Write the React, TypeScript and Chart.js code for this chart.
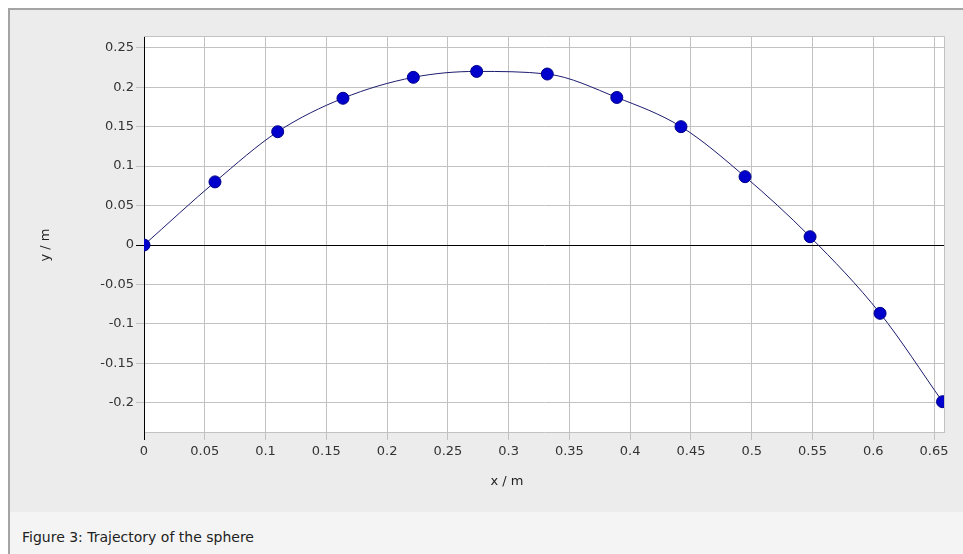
import React, { useEffect, useRef } from "react";
import { Chart, registerables } from "chart.js";

Chart.register(...registerables);

const xValues = [0, 0.0584, 0.11, 0.1637, 0.2216, 0.2737, 0.3318, 0.389, 0.4418, 0.4945, 0.548, 0.6056, 0.657];
const yValues = [0, 0.08, 0.1436, 0.186, 0.2125, 0.22, 0.2167, 0.187, 0.15, 0.0866, 0.0105, -0.0866, -0.1986];
const xRange = [0, 0.6582];
const yRange = [-0.237, 0.2649];
const tickStep = 0.05;
const xTitle = "x / m";
const yTitle = "y / m";
const caption = "Figure 3: Trajectory of the sphere";

const FONT = "'DejaVu Sans', Verdana, sans-serif";
const GRID = "#c2c2c2";

const fmt = (v: number) => String(+Number(v).toFixed(2));

const framePlugin = {
  id: "frame",
  beforeDraw(chart: any) {
    const { ctx, chartArea: a } = chart;
    ctx.save();
    ctx.fillStyle = "#ffffff";
    ctx.fillRect(a.left, a.top, a.right - a.left, a.bottom - a.top);
    ctx.restore();
  },
  beforeDatasetsDraw(chart: any) {
    const { ctx, chartArea: a } = chart;
    ctx.save();
    ctx.strokeStyle = GRID;
    ctx.lineWidth = 1;
    ctx.beginPath();
    ctx.moveTo(a.left, a.top + 0.5);
    ctx.lineTo(a.right + 0.5, a.top + 0.5);
    ctx.lineTo(a.right + 0.5, a.bottom);
    ctx.stroke();
    ctx.restore();
  },
  afterDraw(chart: any) {
    const { ctx } = chart;
    ctx.save();
    ctx.fillStyle = "#222";
    ctx.font = `13px ${FONT}`;
    ctx.textAlign = "center";
    ctx.textBaseline = "alphabetic";
    ctx.fillText(xTitle, 497, 475);
    ctx.translate(36, 235);
    ctx.rotate(-Math.PI / 2);
    ctx.textBaseline = "middle";
    ctx.fillText(yTitle, 0, 0);
    ctx.restore();
  },
};

export default function App() {
  const ref = useRef<HTMLCanvasElement | null>(null);

  useEffect(() => {
    document.body.style.margin = "0";
    const canvas = ref.current;
    if (!canvas) return;
    const data = xValues.map((x, i) => ({ x, y: yValues[i] }));
    const gridColor = (c: any) => (c.tick && Math.abs(c.tick.value) < 1e-9 ? "#000000" : GRID);
    const chart = new Chart(canvas, {
      type: "scatter",
      data: {
        datasets: [
          {
            data,
            showLine: true,
            borderColor: "#1c1c70",
            borderWidth: 1,
            cubicInterpolationMode: "monotone",
            pointRadius: 6,
            pointHoverRadius: 6,
            pointBackgroundColor: "#0000cc",
            pointBorderColor: "#00008a",
            pointBorderWidth: 1,
          },
        ],
      },
      options: {
        animation: false,
        responsive: false,
        maintainAspectRatio: false,
        events: [],
        layout: { padding: { top: 26, right: 19, left: 0, bottom: 0 } },
        plugins: { legend: { display: false }, tooltip: { enabled: false } },
        scales: {
          x: {
            type: "linear",
            min: xRange[0],
            max: xRange[1],
            afterFit: (s: any) => {
              s.height = 80;
            },
            ticks: {
              stepSize: tickStep,
              includeBounds: false,
              autoSkip: false,
              maxRotation: 0,
              padding: 4,
              color: "#333",
              font: { family: FONT, size: 13 },
              callback: (v: any) => fmt(v),
            },
            grid: { color: gridColor, lineWidth: 1, tickLength: 8 },
            border: { display: true, color: GRID },
          },
          y: {
            type: "linear",
            min: yRange[0],
            max: yRange[1],
            afterFit: (s: any) => {
              s.width = 134;
            },
            ticks: {
              stepSize: tickStep,
              includeBounds: false,
              autoSkip: false,
              padding: 2,
              color: "#333",
              font: { family: FONT, size: 13 },
              callback: (v: any) => fmt(v),
            },
            grid: { color: gridColor, lineWidth: 1, tickLength: 8 },
            border: { display: true, color: "#000000" },
          },
        },
      },
      plugins: [framePlugin],
    });
    return () => chart.destroy();
  }, []);

  return (
    <div
      style={{
        position: "fixed",
        left: 8,
        top: 8,
        right: 0,
        bottom: 0,
        borderTop: "2px solid #a4a4a4",
        borderLeft: "2px solid #a4a4a4",
        background: "#ececec",
        overflow: "hidden",
      }}
    >
      <canvas ref={ref} width={953} height={502} style={{ display: "block", width: 953, height: 502 }} />
      <div
        style={{
          height: 42,
          background: "#f4f4f4",
          fontFamily: FONT,
          fontSize: 14,
          color: "#222",
          paddingLeft: 12,
          lineHeight: "50px",
          boxSizing: "border-box",
          whiteSpace: "nowrap",
        }}
      >
        {caption}
      </div>
    </div>
  );
}
